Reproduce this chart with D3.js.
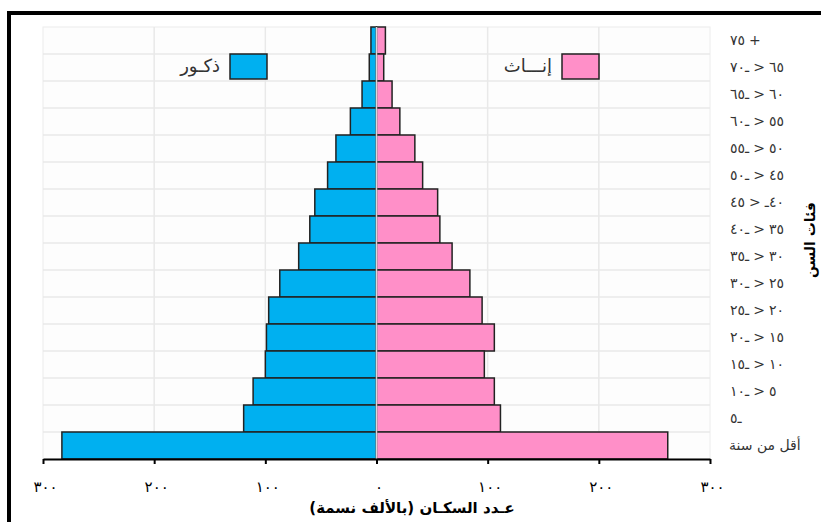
<!DOCTYPE html>
<html>
<head>
<meta charset="utf-8">
<script src="https://cdn.jsdelivr.net/npm/d3@7"></script>
<style>
  body { margin: 0; background: #fff; }
  svg { display: block; font-family: "Liberation Sans", Arial, "DejaVu Sans", sans-serif; }
</style>
</head>
<body>
<svg id="chart" width="821" height="522"></svg>
<script>
const ageGroups = ["٧٥ +", "٧٠ـ > ٦٥", "٦٥ـ > ٦٠", "٦٠ـ > ٥٥", "٥٥ـ > ٥٠", "٥٠ـ > ٤٥", "٤٥ > ـ٤٠", "٤٠ـ > ٣٥",
    "٣٥ـ > ٣٠", "٣٠ـ > ٢٥", "٢٥ـ > ٢٠", "٢٠ـ > ١٥", "١٥ـ > ١٠", "١٠ـ > ٥", "٥ـ", "أقل من سنة"]
const males = [5, 6.5, 13, 23.5, 36.5, 44, 55.5, 60, 70, 87, 97, 99, 100, 111, 119.5, 283]
const females = [8, 6.5, 14, 21, 34.5, 41.5, 55, 57, 68, 84, 95, 106, 97, 106, 111.5, 262]
const xTicks = [-300, -200, -100, 0, 100, 200, 300]
const xTickLabels = ["٣٠٠", "٢٠٠", "١٠٠", "٠", "١٠٠", "٢٠٠", "٣٠٠"]
const seriesNames = ["ذكـور", "إنـــاث"]
const xTitle = "عـدد السكـان (بالألف نسمة)"
const yTitle = "فئات السن"

const blue = "#00b0f0"
const pink = "#ff8fc8"

const svg = d3.select("#chart")
const x = d3.scaleLinear().domain([-300, 300]).range([43, 710])
const y = d3.scaleBand().domain(ageGroups).range([27, 459]).padding(0)

// frame
svg.append("path")
    .attr("d", "M9,522V13H821")
    .attr("fill", "none")
    .attr("stroke", "#000")
    .attr("stroke-width", 4)

svg.append("rect")
    .attr("x", 43).attr("y", 27)
    .attr("width", 667).attr("height", 432)
    .attr("fill", "#fdfdfd")
    .attr("stroke", "#ececec")

// grid
svg.append("g")
    .selectAll("line")
    .data(ageGroups.slice(1))
    .enter()
    .append("line")
    .attr("x1", 43).attr("x2", 710)
    .attr("y1", d => y(d)).attr("y2", d => y(d))
    .attr("stroke", "#e9e9e9")
    .attr("stroke-width", 1.5)

svg.append("g")
    .selectAll("line")
    .data(xTicks.filter(d => d !== 0 && Math.abs(d) !== 300))
    .enter()
    .append("line")
    .attr("x1", d => x(d)).attr("x2", d => x(d))
    .attr("y1", 27).attr("y2", 459)
    .attr("stroke", "#e9e9e9")
    .attr("stroke-width", 1.5)

// bars
svg.append("g")
    .selectAll("rect")
    .data(males)
    .enter()
    .append("rect")
    .attr("x", d => x(-d))
    .attr("y", (d, i) => y(ageGroups[i]))
    .attr("width", d => x(0) - x(-d))
    .attr("height", y.bandwidth())
    .attr("fill", blue)
    .attr("stroke", "#222")
    .attr("stroke-width", 1.5)

svg.append("g")
    .selectAll("rect")
    .data(females)
    .enter()
    .append("rect")
    .attr("x", x(0))
    .attr("y", (d, i) => y(ageGroups[i]))
    .attr("width", d => x(d) - x(0))
    .attr("height", y.bandwidth())
    .attr("fill", pink)
    .attr("stroke", "#222")
    .attr("stroke-width", 1.5)

svg.append("line")
    .attr("x1", x(0)).attr("x2", x(0))
    .attr("y1", 27).attr("y2", 459)
    .attr("stroke", "#d8d8d8")
    .attr("stroke-width", 1.5)

// x axis
const xAxis = svg.append("g")
    .attr("transform", "translate(0,459)")
    .call(d3.axisBottom(x)
        .tickValues(xTicks)
        .tickFormat((d, i) => xTickLabels[i])
        .tickSize(5)
        .tickSizeOuter(0)
        .tickPadding(17))
xAxis.select(".domain").attr("stroke", "#000").attr("stroke-width", 2)
xAxis.selectAll(".tick line").attr("stroke", "#000").attr("stroke-width", 2)
xAxis.selectAll(".tick text")
    .attr("font-size", 15)
    .attr("fill", "#000")
    .attr("font-family", "'DejaVu Sans', sans-serif")
    .attr("letter-spacing", 4)
    .attr("dx", 2)

// y labels: each piece placed on its own so the visual order stays as written
const yLabels = svg.append("g")
    .attr("font-size", 14)
    .attr("fill", "#333")
    .attr("font-family", "'DejaVu Sans', sans-serif")
ageGroups.forEach((label, i) => {
    const cy = y(label) + y.bandwidth() / 2
    if (i === ageGroups.length - 1) {
        yLabels.append("text")
            .attr("x", 729).attr("y", cy).attr("dy", "0.35em")
            .text(label)
        return
    }
    let cx = 730
    label.match(/[٠-٩]+|ـ|\s+|[^\s٠-٩ـ]+/g).forEach(part => {
        if (/^\s+$/.test(part)) { cx += 4; return }
        const t = yLabels.append("text")
            .attr("x", cx).attr("y", cy).attr("dy", "0.35em")
            .attr("letter-spacing", /[٠-٩]/.test(part) ? 1.2 : 0)
            .text(part)
        cx += t.node().getComputedTextLength()
    })
})

// titles
svg.append("text")
    .attr("x", 412)
    .attr("y", 513)
    .attr("text-anchor", "middle")
    .attr("font-size", 15)
    .attr("font-weight", "bold")
    .attr("fill", "#000")
    .attr("font-family", "'DejaVu Sans', sans-serif")
    .text(xTitle)

svg.append("text")
    .attr("transform", "translate(810,240) rotate(-90)")
    .attr("text-anchor", "middle")
    .attr("dy", "0.35em")
    .attr("font-size", 14)
    .attr("font-weight", "bold")
    .attr("fill", "#000")
    .attr("font-family", "'DejaVu Sans', sans-serif")
    .text(yTitle)

// legend
const legendItems = [
    { name: seriesNames[0], color: blue, x: 230 },
    { name: seriesNames[1], color: pink, x: 562 }
]
const legend = svg.append("g")
    .selectAll("g")
    .data(legendItems)
    .enter()
    .append("g")
legend.append("rect")
    .attr("x", d => d.x)
    .attr("y", 54)
    .attr("width", 37)
    .attr("height", 25)
    .attr("fill", d => d.color)
    .attr("stroke", "#222")
    .attr("stroke-width", 1.5)
legend.append("text")
    .attr("x", d => d.x - 10)
    .attr("y", 66)
    .attr("dy", "0.35em")
    .attr("text-anchor", "end")
    .attr("font-size", 18)
    .attr("fill", "#333")
    .attr("font-family", "'DejaVu Sans', sans-serif")
    .text(d => d.name)
</script>
</body>
</html>
